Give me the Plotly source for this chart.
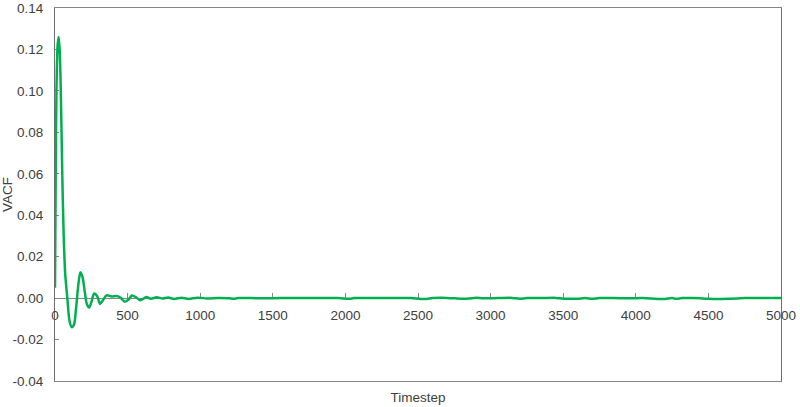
import plotly.graph_objects as go

# Data
timestep = [0, 5, 10, 18, 25, 32, 40, 50, 60, 70, 85, 100, 115, 130, 145, 160, 175, 190,
            205, 220, 235, 250, 270, 290, 310, 330, 355, 390, 425, 455, 480, 505, 530, 560,
            585, 610, 630, 660, 700, 740, 780, 820, 870, 920, 980, 1050, 1120, 1200, 1230,
            1260, 1350, 1450, 1550, 1650, 1750, 1850, 1950, 2030, 2060, 2150, 2250, 2350,
            2450, 2520, 2560, 2600, 2700, 2800, 2850, 2900, 2950, 3050, 3150, 3200, 3250,
            3350, 3450, 3500, 3550, 3600, 3650, 3700, 3750, 3850, 3950, 4050, 4150, 4200,
            4250, 4280, 4320, 4400, 4500, 4560, 4650, 4700, 4750, 4850, 5000]
vacf = [0.005, 0.06, 0.1, 0.122, 0.126, 0.12, 0.1, 0.06, 0.03, 0.012, 0.0, -0.011, -0.014,
        -0.013, -0.005, 0.006, 0.0125, 0.01, 0.003, -0.003, -0.0045, -0.002, 0.0022, 0.001,
        -0.0028, -0.001, 0.0013, 0.0008, 0.001, 0.0, -0.0017, -0.0008, 0.0013, 0.0003,
        -0.001, -0.0002, 0.0005, -0.0003, 0.0004, -0.0002, 0.0003, -0.0004, 0.0002, -0.0004,
        0.0002, -0.0002, 0.0, -0.0001, -0.0003, 0.0, 0.0, -0.0001, 0.0, 0.0, 0.0001, 0.0,
        0.0, -0.0003, 0.0, 0.0, 0.0001, 0.0, 0.0, -0.0004, -0.0004, 0.0, 0.0001, -0.0003,
        -0.0002, 0.0002, -0.0001, 0.0, 0.0001, -0.0003, 0.0, 0.0, 0.0001, -0.0003, -0.0003,
        -0.0003, 0.0, -0.0003, 0.0, 0.0, -0.0001, 0.0, -0.0004, -0.0004, 0.0, -0.0003, 0.0,
        0.0, -0.0003, -0.0004, -0.0003, -0.0002, 0.0, 0.0, 0.0]

x_tick_vals = [0, 500, 1000, 1500, 2000, 2500, 3000, 3500, 4000, 4500, 5000]
x_tick_labels = ["0", "500", "1000", "1500", "2000", "2500", "3000", "3500", "4000", "4500", "5000"]
y_tick_vals = [-0.04, -0.02, 0.0, 0.02, 0.04, 0.06, 0.08, 0.10, 0.12, 0.14]
y_tick_labels = ["-0.04", "-0.02", "0.00", "0.02", "0.04", "0.06", "0.08", "0.10", "0.12", "0.14"]

x_range = [0, 5000]
y_range = [-0.04, 0.14]

axis_color = "#868686"
left_axis_color = "#6e6e6e"
text_color = "#404040"
font_family = "Liberation Sans, Arial, sans-serif"

fig = go.Figure()
fig.add_trace(go.Scatter(
    x=timestep, y=vacf, mode="lines",
    line=dict(color="#00B050", width=2.5, shape="spline", smoothing=0.8),
    xaxis="x", yaxis="y", showlegend=False, hoverinfo="x+y",
))
# invisible trace to activate the frame/title axis
fig.add_trace(go.Scatter(x=x_range, y=[0, 0], mode="lines", xaxis="x2", yaxis="y",
                         line=dict(width=0, color="rgba(0,0,0,0)"), showlegend=False,
                         hoverinfo="skip"))

zero_pos = (0 - y_range[0]) / (y_range[1] - y_range[0])

fig.update_layout(
    width=800, height=407,
    margin=dict(l=55, r=19, t=8, b=26),
    paper_bgcolor="white", plot_bgcolor="white",
    font=dict(family=font_family, size=13.5, color=text_color),
    xaxis=dict(
        range=x_range, anchor="free", position=zero_pos, automargin=False,
        tickvals=x_tick_vals, ticktext=x_tick_labels,
        ticks="inside", ticklen=5, tickcolor=axis_color, tickwidth=1,
        showline=True, linecolor=axis_color, linewidth=1, layer="below traces",
        showgrid=False, zeroline=False, ticklabelstandoff=5,
    ),
    xaxis2=dict(
        range=x_range, overlaying="x", matches="x", anchor="y", side="bottom",
        automargin=False, layer="below traces",
        showline=True, mirror=True, linecolor=axis_color, linewidth=1,
        ticks="", showticklabels=False, showgrid=False, zeroline=False,
        title=dict(text="Timestep", standoff=11, font=dict(size=13.5, color=text_color)),
    ),
    yaxis=dict(
        range=y_range, tickvals=y_tick_vals, ticktext=y_tick_labels, automargin=False,
        ticks="inside", ticklen=4, tickcolor=axis_color, tickwidth=1,
        showline=True, mirror=True, linecolor=left_axis_color, linewidth=1, layer="below traces",
        showgrid=False, zeroline=False, ticklabelstandoff=8,
        title=dict(text="VACF", standoff=6, font=dict(size=13.5, color=text_color)),
    ),
)

fig.write_html("out.html", config={"displayModeBar": False},
               post_script="document.body.style.margin='0';")
